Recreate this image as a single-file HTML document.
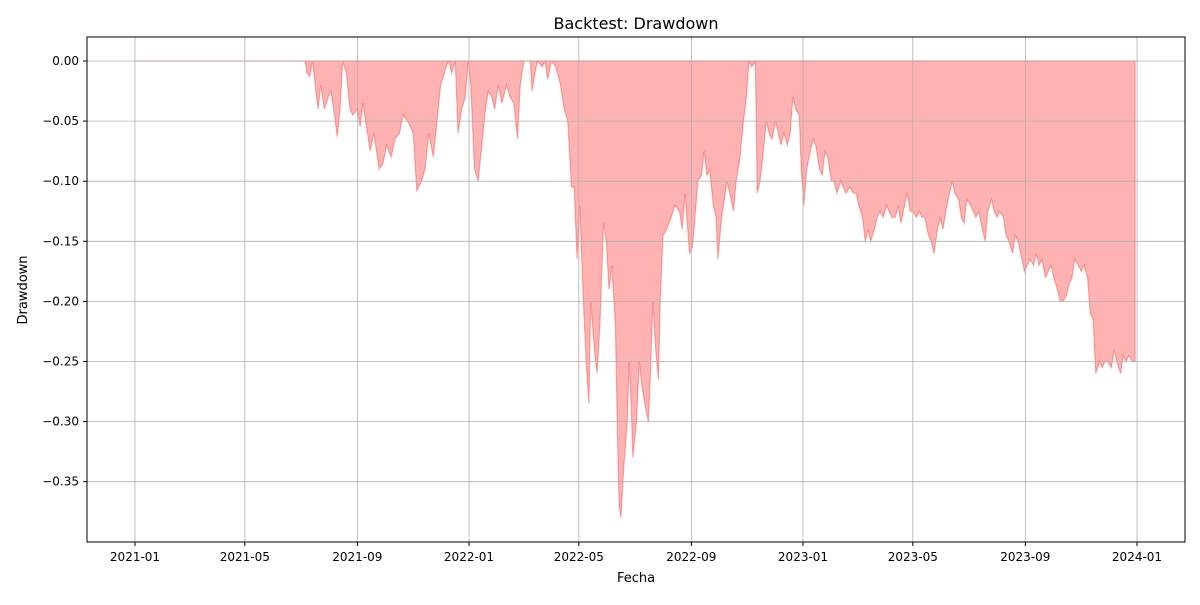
<!DOCTYPE html>
<html><head><meta charset="utf-8"><style>
body{margin:0;background:#fff;font-family:"Liberation Sans","DejaVu Sans",sans-serif}
svg text{font-family:"DejaVu Sans","Liberation Sans",sans-serif}
</style></head><body>
<svg id="chart" width="1200" height="600" xmlns="http://www.w3.org/2000/svg">
<rect width="1200" height="600" fill="#fff"/>
<path id="area" fill="rgba(255,0,0,0.3)" stroke="rgba(255,0,0,0.3)" stroke-width="1.2"/>
<g id="grid"></g>
<g id="axes"></g>
<rect x="87" y="37" width="1098" height="505" fill="none" stroke="#000" stroke-width="1"/>
<text x="636" y="29" font-size="16" text-anchor="middle">Backtest: Drawdown</text>
<text x="636" y="582" font-size="13" text-anchor="middle">Fecha</text>
<text x="27" y="290" font-size="13" text-anchor="middle" transform="rotate(-90 27 290)">Drawdown</text>
</svg>
<script>
const days=[0,186,188,191,194,200,203,207,211,214,218,221,224,227,231,235,238,243,246,249,252,257,261,267,271,275,280,284,289,293,298,304,308,313,317,321,326,330,334,340,343,346,350,353,357,361,364,367,371,375,379,383,386,390,393,397,401,406,410,414,418,421,425,432,434,437,440,445,448,451,455,460,465,469,473,477,480,483,486,490,493,496,498,502,505,508,512,515,518,521,525,527,529,531,534,538,540,542,544,548,551,554,557,561,563,566,569,572,574,577,581,586,590,595,598,601,606,609,612,615,619,622,625,628,632,635,637,641,644,647,650,654,657,661,665,668,671,674,678,680,683,686,690,693,696,700,703,706,709,713,716,719,722,726,728,731,734,738,741,744,748,751,754,757,761,764,767,771,774,777,781,785,788,791,795,798,801,804,808,811,814,818,821,824,827,831,834,837,841,844,847,850,854,857,860,863,867,870,873,877,880,883,886,890,893,896,900,903,906,909,913,916,919,922,926,929,932,936,939,942,945,949,952,955,959,962,965,968,972,975,978,982,985,988,991,995,998,1001,1004,1008,1011,1014,1018,1021,1024,1027,1031,1034,1037,1041,1044,1047,1050,1054,1057,1060,1063,1067,1070,1073,1077,1080,1083,1086,1090,1093];
const drawdown=[0,0,-0.01,-0.013,0,-0.04,-0.02,-0.04,-0.03,-0.025,-0.045,-0.063,-0.04,0,-0.01,-0.04,-0.045,-0.04,-0.055,-0.035,-0.05,-0.075,-0.06,-0.09,-0.085,-0.07,-0.08,-0.065,-0.06,-0.045,-0.05,-0.06,-0.108,-0.1,-0.09,-0.06,-0.08,-0.05,-0.02,-0.005,0,-0.01,0,-0.06,-0.04,-0.03,0,-0.02,-0.09,-0.1,-0.07,-0.04,-0.025,-0.03,-0.04,-0.02,-0.035,-0.02,-0.03,-0.035,-0.065,-0.02,0,0,-0.025,-0.01,0,-0.005,0,-0.015,0,-0.005,-0.02,-0.04,-0.05,-0.105,-0.105,-0.165,-0.12,-0.2,-0.25,-0.285,-0.2,-0.24,-0.26,-0.22,-0.135,-0.15,-0.19,-0.17,-0.22,-0.3,-0.37,-0.38,-0.34,-0.3,-0.25,-0.28,-0.33,-0.3,-0.25,-0.27,-0.285,-0.3,-0.265,-0.2,-0.24,-0.265,-0.2,-0.145,-0.14,-0.13,-0.12,-0.125,-0.14,-0.11,-0.16,-0.155,-0.13,-0.1,-0.095,-0.075,-0.095,-0.09,-0.12,-0.13,-0.165,-0.13,-0.115,-0.1,-0.11,-0.125,-0.1,-0.08,-0.05,-0.03,0,-0.005,0,-0.11,-0.1,-0.08,-0.05,-0.06,-0.065,-0.05,-0.06,-0.07,-0.06,-0.07,-0.06,-0.03,-0.04,-0.045,-0.09,-0.12,-0.09,-0.075,-0.065,-0.07,-0.09,-0.095,-0.075,-0.08,-0.1,-0.1,-0.11,-0.1,-0.105,-0.11,-0.105,-0.11,-0.11,-0.12,-0.13,-0.15,-0.14,-0.15,-0.14,-0.13,-0.125,-0.13,-0.12,-0.125,-0.13,-0.13,-0.12,-0.135,-0.12,-0.11,-0.125,-0.125,-0.13,-0.125,-0.13,-0.13,-0.145,-0.15,-0.16,-0.14,-0.13,-0.14,-0.125,-0.11,-0.1,-0.11,-0.115,-0.13,-0.135,-0.115,-0.12,-0.125,-0.13,-0.125,-0.14,-0.15,-0.125,-0.115,-0.125,-0.13,-0.125,-0.13,-0.145,-0.15,-0.16,-0.145,-0.15,-0.16,-0.175,-0.17,-0.165,-0.17,-0.16,-0.17,-0.165,-0.18,-0.175,-0.17,-0.18,-0.19,-0.2,-0.2,-0.195,-0.185,-0.18,-0.165,-0.17,-0.175,-0.17,-0.18,-0.21,-0.215,-0.26,-0.25,-0.255,-0.25,-0.25,-0.255,-0.24,-0.25,-0.26,-0.245,-0.25,-0.245,-0.25,-0.25];
const xTickLabels=["2021-01","2021-05","2021-09","2022-01","2022-05","2022-09","2023-01","2023-05","2023-09","2024-01"];
const xTickDays=[0,120,243,365,485,608,730,850,973,1095];
const yTicks=[0,-0.05,-0.1,-0.15,-0.2,-0.25,-0.3,-0.35];
const yTickLabels=["0.00","−0.05","−0.10","−0.15","−0.20","−0.25","−0.30","−0.35"];
const X=d=>135+d*(1002/1095);
const Y=v=>61-v*1202;
const NS="http://www.w3.org/2000/svg";
const grid=document.getElementById('grid'),axes=document.getElementById('axes');
function mk(tag,attrs,parent){const e=document.createElementNS(NS,tag);for(const k in attrs)e.setAttribute(k,attrs[k]);parent.appendChild(e);return e;}
xTickDays.forEach((d,i)=>{
  const x=X(d);
  const g=mk('line',{x1:x,x2:x,y1:37,y2:542,stroke:'#b0b0b0','stroke-width':0.8},grid);
  
  
  const t=mk('line',{x1:x,x2:x,y1:542,y2:546,stroke:'#000'},axes);
  
  
  const l=mk('text',{x:x,y:561,'font-size':12,'text-anchor':'middle'},axes);
  l.textContent=xTickLabels[i];
  
  
});
yTicks.forEach((v,i)=>{
  const y=Y(v);
  const g=mk('line',{x1:87,x2:1185,y1:y,y2:y,stroke:'#b0b0b0','stroke-width':0.8},grid);
  
  
  const t=mk('line',{x1:83,x2:87,y1:y,y2:y,stroke:'#000'},axes);
  
  
  const l=mk('text',{x:79,y:y+4,'font-size':12,'text-anchor':'end'},axes);
  l.textContent=yTickLabels[i];
  
  
});
let d='M'+X(days[0])+','+Y(0);
days.forEach((dd,i)=>{d+=' L'+X(dd).toFixed(1)+','+Y(drawdown[i]).toFixed(1);});
d+=' L'+X(days[days.length-1])+','+Y(0)+' Z';
document.getElementById('area').setAttribute('d',d);
</script>
</body></html>
